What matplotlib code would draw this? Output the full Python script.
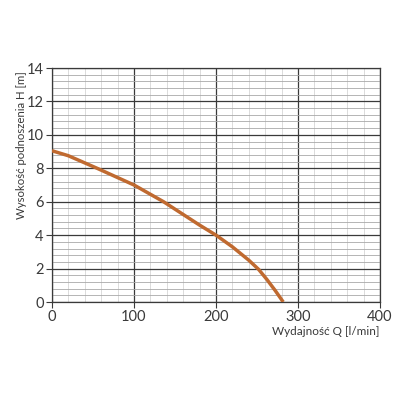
import matplotlib
matplotlib.use("Agg")
import matplotlib.pyplot as plt
from matplotlib.ticker import MultipleLocator

# Data
flow_q = [0, 20, 55, 100, 136, 180, 200, 220, 240, 252, 262, 272, 282]
head_h = [9.05, 8.75, 8.0, 7.0, 6.0, 4.6, 4.0, 3.3, 2.5, 1.95, 1.35, 0.7, 0.0]
x_label = "Wydajność Q [l/min]"
y_label = "Wysokość podnoszenia H [m]"

plt.rcParams['font.family'] = ['Lato', 'DejaVu Sans']

fig = plt.figure(figsize=(4, 4), dpi=100)
ax = fig.add_axes([0.13, 0.245, 0.82, 0.585])

ax.set_xlim(0, 400)
ax.set_ylim(0, 14)
ax.xaxis.set_major_locator(MultipleLocator(100))
ax.xaxis.set_minor_locator(MultipleLocator(20))
ax.yaxis.set_major_locator(MultipleLocator(2))
ax.yaxis.set_minor_locator(MultipleLocator(0.4))

ax.grid(which='major', axis='both', color='#3a3a3a', linewidth=0.9, zorder=1)
ax.grid(which='minor', axis='y', color='#a8a8a8', linewidth=0.6, zorder=0)
ax.grid(which='minor', axis='x', color='#d6d6d6', linewidth=0.6, zorder=0)

for s in ax.spines.values():
    s.set_color('#3a3a3a')
    s.set_linewidth(0.9)

ax.tick_params(which='major', length=4, width=0.8, color='#3a3a3a',
               labelsize=10.5, labelcolor='#3a3a3a', pad=2)
ax.tick_params(which='minor', length=0)

ax.plot(flow_q, head_h, color='#C06A30', linewidth=2.5, zorder=3,
        solid_capstyle='butt', solid_joinstyle='round')

ax.set_xlabel(x_label, loc='right', fontsize=8.5, color='#3a3a3a', labelpad=1)
ax.set_ylabel(y_label, fontsize=8.2, color='#3a3a3a')
ax.yaxis.set_label_coords(-0.075, 0.67)

fig.savefig("out.png", dpi=100, facecolor='white')
